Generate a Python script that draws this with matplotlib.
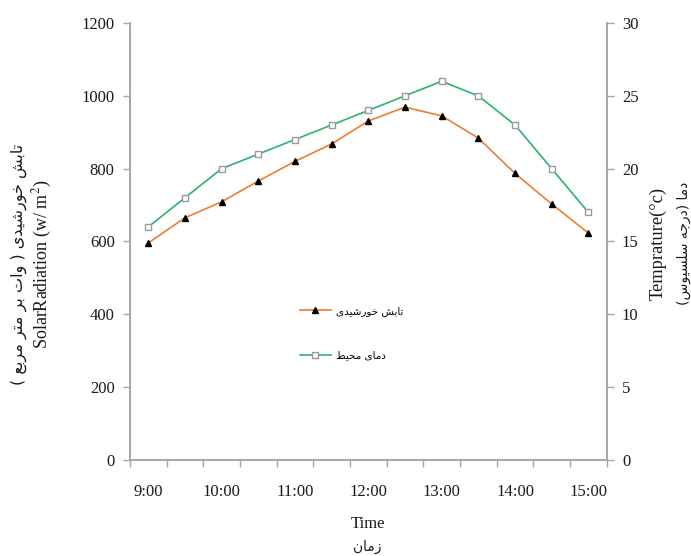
import numpy as np
import matplotlib
matplotlib.use('Agg')
import matplotlib.pyplot as plt

# ---------------------------------------------------------------
# Data
# ---------------------------------------------------------------
times = ['9:00', '9:30', '10:00', '10:30', '11:00', '11:30', '12:00',
         '12:30', '13:00', '13:30', '14:00', '14:30', '15:00']
solar = [596, 665, 709, 766, 820, 868, 931, 969, 945, 884, 787, 703, 623]
temp = [16, 18, 20, 21, 22, 23, 24, 25, 26, 25, 23, 20, 17]

label_solar = 'تابش خورشیدی'
label_temp = 'دمای محیط'
ylab_left_fa = 'تابش خورشیدی ( وات بر متر مربع )'
ylab_right_fa = 'دما (درجه سلسیوس)'
xlab_fa = 'زمان'


# ---------------------------------------------------------------
# minimal Persian shaping (matplotlib has no bidi / joining)
# forms: isolated, final, initial, medial
# ---------------------------------------------------------------
FORMS = {
    'ا': (0xFE8D, 0xFE8E, None, None),
    'ب': (0xFE8F, 0xFE90, 0xFE91, 0xFE92),
    'ت': (0xFE95, 0xFE96, 0xFE97, 0xFE98),
    'ج': (0xFE9D, 0xFE9E, 0xFE9F, 0xFEA0),
    'ح': (0xFEA1, 0xFEA2, 0xFEA3, 0xFEA4),
    'خ': (0xFEA5, 0xFEA6, 0xFEA7, 0xFEA8),
    'د': (0xFEA9, 0xFEAA, None, None),
    'ر': (0xFEAD, 0xFEAE, None, None),
    'ز': (0xFEAF, 0xFEB0, None, None),
    'س': (0xFEB1, 0xFEB2, 0xFEB3, 0xFEB4),
    'ش': (0xFEB5, 0xFEB6, 0xFEB7, 0xFEB8),
    'ط': (0xFEC1, 0xFEC2, 0xFEC3, 0xFEC4),
    'ع': (0xFEC9, 0xFECA, 0xFECB, 0xFECC),
    'ل': (0xFEDD, 0xFEDE, 0xFEDF, 0xFEE0),
    'م': (0xFEE1, 0xFEE2, 0xFEE3, 0xFEE4),
    'ن': (0xFEE5, 0xFEE6, 0xFEE7, 0xFEE8),
    'ه': (0xFEE9, 0xFEEA, 0xFEEB, 0xFEEC),
    'و': (0xFEED, 0xFEEE, None, None),
    'ی': (0xFEEF, 0xFEF0, 0xFEF3, 0xFEF4),
}


def shape_fa(s):
    out = []
    for i, c in enumerate(s):
        if c not in FORMS:
            out.append(c)
            continue
        prev = s[i - 1] if i > 0 else ''
        nxt = s[i + 1] if i + 1 < len(s) else ''
        f = FORMS[c]
        join_prev = prev in FORMS and FORMS[prev][2] is not None
        join_next = nxt in FORMS and f[2] is not None
        if join_prev and join_next:
            out.append(chr(f[3]))
        elif join_prev:
            out.append(chr(f[1]))
        elif join_next:
            out.append(chr(f[2]))
        else:
            out.append(chr(f[0]))
    vis = ''.join(out)[::-1]
    return vis.translate(str.maketrans('()', ')('))


plt.rcParams['font.family'] = ['Liberation Serif', 'DejaVu Sans']
plt.rcParams['mathtext.fontset'] = 'stix'
fa_font = ['DejaVu Sans']
gray = '#a6a6a6'
txt = '#1a1a1a'

x = np.arange(len(times))

fig = plt.figure(figsize=(6.91, 5.56), dpi=100)
ax = fig.add_axes([0.188, 0.1727, 0.690, 0.7859])
ax2 = ax.twinx()

l1, = ax.plot(x, solar, color='#ED7D31', lw=1.2, marker='^', ms=5,
              mfc='black', mec='black', zorder=3)
l2, = ax2.plot(x, temp, color='#2EB26B', lw=1.2, marker='s', ms=5,
               mfc='white', mec='#9a9a9a', mew=1.0, zorder=3)

ax.set_xlim(-0.5, len(times) - 0.5)
ax.set_ylim(0, 1200)
ax2.set_ylim(0, 30)
ax.set_yticks(np.arange(0, 1201, 200))
ax2.set_yticks(np.arange(0, 31, 5))

# category axis: ticks on boundaries, labels every hour
ax.set_xticks(np.arange(-0.5, len(times), 1.0))
ax.set_xticklabels([])
ax.set_xticks(x[::2], minor=True)
ax.set_xticklabels(times[::2], minor=True)
ax.tick_params(axis='x', which='minor', length=0, pad=17,
               labelsize=12, labelcolor=txt)
ax.tick_params(axis='x', which='major', length=5, color=gray, width=1)
ax.tick_params(axis='y', length=5, color=gray, width=1, labelsize=12,
               labelcolor=txt, pad=6)
ax2.tick_params(axis='y', length=5, color=gray, width=1, labelsize=12,
                labelcolor=txt, pad=6)

for a in (ax, ax2):
    a.spines['top'].set_visible(False)
    for side in ('left', 'right', 'bottom'):
        a.spines[side].set_color(gray)
        a.spines[side].set_linewidth(1.2)

# axis titles (two lines each: persian + english)
fig.text(0.062, 0.525, 'SolarRadiation (w/ m$^2$)', rotation=90,
         ha='center', va='center', fontsize=13, color=txt)
fig.text(0.028, 0.525, shape_fa(ylab_left_fa), rotation=90,
         ha='center', va='center', fontsize=11.5, color=txt, family=fa_font)
fig.text(0.952, 0.563, 'Temprature(°c)', rotation=90,
         ha='center', va='center', fontsize=13.3, color=txt)
fig.text(0.99, 0.563, shape_fa(ylab_right_fa), rotation=90,
         ha='center', va='center', fontsize=10, color=txt, family=fa_font)
fig.text(0.532, 0.058, 'Time', ha='center', va='center',
         fontsize=12, color=txt)
fig.text(0.532, 0.017, shape_fa(xlab_fa), ha='center', va='center',
         fontsize=10, color=txt, family=fa_font)

leg = ax2.legend([l1, l2], [shape_fa(label_solar), shape_fa(label_temp)],
                 loc='center', bbox_to_anchor=(0.465, 0.29), frameon=False,
                 handlelength=3.0, labelspacing=3.3, handletextpad=0.5,
                 prop={'family': fa_font, 'size': 7.5})

fig.savefig('out.png', dpi=100)
